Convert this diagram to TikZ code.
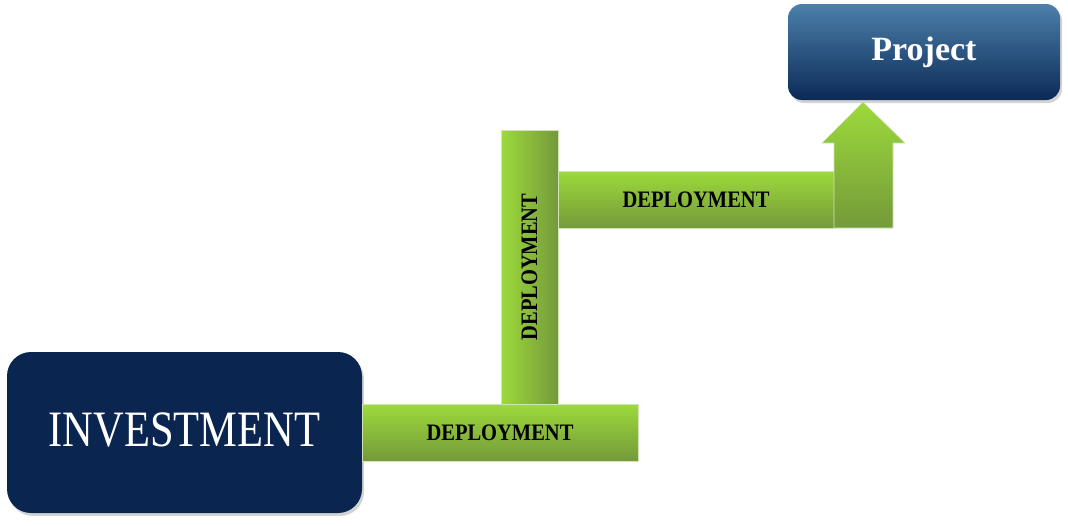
\documentclass[tikz,border=0pt]{standalone}
\usepackage{fontspec}
\setmainfont{Liberation Serif}
\usetikzlibrary{shadows}
\definecolor{navy}{HTML}{0A2550}
\definecolor{projtop}{HTML}{4C80AB}
\definecolor{projbot}{HTML}{0B2A56}
\definecolor{glight}{HTML}{9DDA3B}
\definecolor{gdark}{HTML}{739A3A}
\definecolor{gedge}{HTML}{D2E3B8}
\tikzset{
  bigbox/.style={rounded corners=24pt, fill=navy, text=white, inner sep=0pt,
    drop shadow={shadow xshift=2pt, shadow yshift=-3pt, opacity=0.35}},
  projbox/.style={rounded corners=14pt, top color=projtop, bottom color=projbot, text=white, inner sep=0pt,
    drop shadow={shadow xshift=2pt, shadow yshift=-3pt, opacity=0.35}},
  hbar/.style={top color=glight, bottom color=gdark, draw=gedge, line width=0.6pt, inner sep=0pt,
    font=\fontsize{20.5}{20.5}\selectfont\bfseries},
  vbar/.style={left color=glight, right color=gdark, draw=gedge, line width=0.6pt, inner sep=0pt,
    font=\fontsize{20.5}{20.5}\selectfont\bfseries},
  arrowshape/.style={top color=glight, bottom color=gdark, draw=gedge, line width=0.6pt}
}
\begin{document}
\begin{tikzpicture}[x=1pt,y=-1pt]
\useasboundingbox (0,0) rectangle (1068,525);
% INVESTMENT box
\node[bigbox, minimum width=355pt, minimum height=161pt] (inv) at (184.5,432.5)
  {\raisebox{5pt}{\scalebox{1}[1.2]{\fontsize{42.5}{42.5}\selectfont INVESTMENT}}};
% Project box
\node[projbox, minimum width=272pt, minimum height=96pt] (proj) at (924,52)
  {\fontsize{34}{34}\selectfont\bfseries Project};
% vertical bar
\node[vbar, minimum width=57pt, minimum height=274pt] (vbar) at (529.5,267)
  {\rotatebox{90}{\scalebox{1}[1.15]{DEPLOYMENT}}};
% bottom bar
\node[hbar, minimum width=276pt, minimum height=57pt] (bbar) at (500,432.5)
  {\scalebox{1}[1.15]{DEPLOYMENT}};
% top bar
\node[hbar, minimum width=276pt, minimum height=57pt] (tbar) at (696,199.5)
  {\scalebox{1}[1.15]{DEPLOYMENT}};
% up arrow
\shade[arrowshape] (834,228) -- (834,143) -- (822,143) -- (863,102) -- (905,143) -- (893,143) -- (893,228) -- cycle;
\end{tikzpicture}
\end{document}
